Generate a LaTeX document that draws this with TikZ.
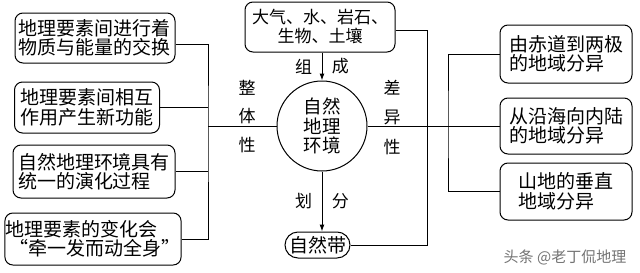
\documentclass[tikz,border=0pt]{standalone}
\usepackage{fontspec}
\setmainfont{Noto Sans CJK SC}
\usepackage{tikz}
\usetikzlibrary{arrows.meta,positioning,calc}

\begin{document}
\begin{tikzpicture}[
  x=1pt, y=-1pt,
  box/.style={draw,rounded corners=8pt,line width=1pt,inner sep=1pt,align=left,
    font=\fontsize{19}{19.5}\selectfont},
  link/.style={line width=1pt},
  arrow/.style={-{Latex[length=7pt,width=5pt]},line width=1pt},
  lbl/.style={font=\fontsize{17}{17}\selectfont}
]
  \useasboundingbox (0,0) rectangle (640,273);

  % centre
  \node[draw,circle,line width=1pt,minimum size=90pt,inner sep=0pt,align=center,
    font=\fontsize{18.5}{19.5}\selectfont] (env) at (322,126) {自然\\地理\\环境};
  \node[box,align=center,minimum width=150pt,minimum height=50pt,
    font=\fontsize{17}{19}\selectfont] (parts) at (320,27) {大气、水、岩石、\\生物、土壤};
  \node[box,rounded corners=13pt,minimum width=65pt,minimum height=26pt,inner sep=0pt] (zone) at (317.5,245) {自然带};

  % left boxes
  \node[box,minimum width=160pt,minimum height=50pt] (exch) at (95,38) {地理要素间进行着\\物质与能量的交换};
  \node[box,minimum width=145pt,minimum height=51pt] (func) at (87,107.5) {地理要素间相互\\作用产生新功能};
  \node[box,minimum width=162pt,minimum height=53pt] (evol) at (94,171.5) {自然地理环境具有\\统一的演化过程};
  \node[box,minimum width=170pt,minimum height=52pt] (chain) at (93,239) {地理要素的变化会\\\,“牵一发而动全身”};

  % right boxes
  \node[box,minimum width=132pt,minimum height=58pt] (lat) at (566,54) {由赤道到两极\\的地域分异};
  \node[box,minimum width=132pt,minimum height=56pt] (lon) at (566,126) {从沿海向内陆\\的地域分异};
  \node[box,minimum width=132pt,minimum height=57pt] (vert) at (566,191.5) {山地的垂直\\地域分异};

  % side labels
  \node[align=center,font=\fontsize{17}{28.5}\selectfont] (whole) at (247,116.5) {整\\体\\性};
  \node[align=center,font=\fontsize{17}{29.5}\selectfont] (diff) at (392,117.5) {差\\异\\性};

  % buses
  \coordinate (lbus) at (208,126);
  \coordinate (rbus) at (448,126);
  \coordinate (obus) at (427,126);

  \draw[link] ([yshift=-6pt]exch.east) -| (lbus) |- (chain.east);
  \draw[link] (func.east) -- (func.east -| lbus);
  \draw[link] (evol.east) -- (evol.east -| lbus);
  \draw[link] (env.west) -- (lbus);

  \draw[link] (lat.west) -| (rbus) |- (vert.west);
  \draw[link] (env.east) -- (lon.west);

  \draw[link] ([yshift=-3pt]parts.east) -- ([yshift=-3pt]parts.east -| obus) -- (zone.east -| obus) -- (zone.east);

  % arrows
  \draw[arrow] (env.north |- parts.south) -- node[lbl,left=6pt]{组} node[lbl,right=6pt]{成} (env.north);
  \draw[arrow] (env.south) -- node[lbl,left=6pt]{划} node[lbl,right=6pt]{分} (env.south |- zone.north);

  \node[text=black!55,font=\fontsize{15}{15}\selectfont] (mark) at (565,257) {头条 @老丁侃地理};
\end{tikzpicture}
\end{document}
